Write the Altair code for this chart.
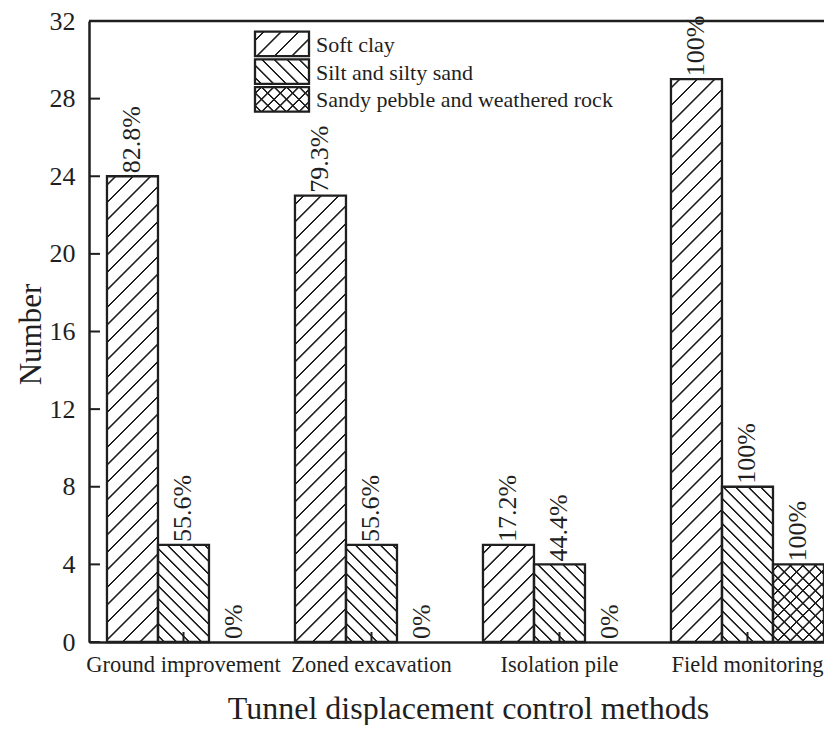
import math
import altair as alt
import pandas as pd

# ---------------- data ----------------
methods = ["Ground improvement", "Zoned excavation", "Isolation pile", "Field monitoring"]
soils = ["Soft clay", "Silt and silty sand", "Sandy pebble and weathered rock"]
soft_clay = [24, 23, 5, 29]
silt_sand = [5, 5, 4, 8]
pebble_rock = [0, 0, 0, 4]
soft_clay_pct = ["82.8%", "79.3%", "17.2%", "100%"]
silt_sand_pct = ["55.6%", "55.6%", "44.4%", "100%"]
pebble_rock_pct = ["0%", "0%", "0%", "100%"]
y_ticks = [0, 4, 8, 12, 16, 20, 24, 28, 32]

rows = []
for vals, pcts, soil in [(soft_clay, soft_clay_pct, soils[0]),
                         (silt_sand, silt_sand_pct, soils[1]),
                         (pebble_rock, pebble_rock_pct, soils[2])]:
    for m, v, p in zip(methods, vals, pcts):
        rows.append({"method": m, "soil": soil, "value": v, "pct": p})
df = pd.DataFrame(rows)

# ---------------- layout / style ----------------
W, H = 735, 621
PAD_TOP = 13
YMAX = 32
PX_PER_UNIT = H / YMAX
P_INNER, P_OUTER, ALIGN = 0.186, 0.0478, 1.0
STEP = W / (len(methods) - P_INNER + 2 * P_OUTER)
BAR_W = STEP * (1 - P_INNER) / len(soils)
INK = "#1f1f1f"
FONT = "Liberation Serif"
CLEAR = "rgba(0,0,0,0)"

# hatch style per soil: list of (direction, spacing)
HATCH = {
    soils[0]: [("/", 17.5)],
    soils[1]: [("\\", 12.5)],
    soils[2]: [("/", 12.5), ("\\", 12.5)],
}


def hatch_fill(w, h, spacing, direction, lw=1.0, color=INK):
    L = w + h
    k = w * L / (w * w + h * h)
    if direction == "/":
        x1, y1, x2, y2 = 0, 0, k, k * h / w
    else:
        x1, y1, x2, y2 = 0, 1, k, 1 - k * h / w
    half = lw * math.sqrt(2) / 2
    fr = 0.7
    stops = [{"offset": 0, "color": CLEAR}]
    c = spacing / 2
    while c - half - fr < L:
        for off, col in [(c - half - fr, CLEAR), (c - half, color),
                         (c + half, color), (c + half + fr, CLEAR)]:
            stops.append({"offset": min(max(off / L, 0.0), 1.0), "color": col})
        c += spacing
    stops.append({"offset": 1, "color": CLEAR})
    return {"gradient": "linear", "x1": x1, "y1": y1, "x2": x2, "y2": y2, "stops": stops}


xscale = alt.Scale(domain=methods, paddingInner=P_INNER, paddingOuter=P_OUTER, align=ALIGN)
offscale = alt.Scale(domain=soils, paddingInner=0, paddingOuter=0)
yscale = alt.Scale(domain=[0, YMAX], nice=False, zero=True)

xaxis = alt.Axis(title="Tunnel displacement control methods", labelFont=FONT, labelFontSize=22.5,
                 labelColor=INK, labelPadding=11, labelLimit=400, labelOverlap=False,
                 ticks=False, domainColor=INK, domainWidth=2.5,
                 labelAngle=0, titleFont=FONT, titleFontSize=32, titleFontWeight="normal",
                 titleColor=INK, titleX=379, titleY=76, titleBaseline="alphabetic",
                 titleAlign="center", grid=False)
yaxis = alt.Axis(title="Number", values=y_ticks, labelFont=FONT, labelFontSize=26, labelColor=INK,
                 labelPadding=14, ticks=False, domainColor=INK, domainWidth=2.5,
                 titleFont=FONT, titleFontSize=31, titleFontWeight="normal", titleColor=INK,
                 titleAngle=270, titleX=-49, titleY=313, titleBaseline="alphabetic",
                 titleAlign="center", grid=False)

X = alt.X("method:N", scale=xscale, axis=xaxis, sort=methods)
XO = alt.XOffset("soil:N", scale=offscale, sort=soils)
Y = alt.Y("value:Q", scale=yscale, axis=yaxis)

layers = []

# bars with hatch fills
for _, r in df.iterrows():
    if r["value"] <= 0:
        continue
    h = r["value"] * PX_PER_UNIT
    patt = HATCH[r["soil"]]
    for i, (d, sp) in enumerate(patt):
        last = i == len(patt) - 1
        mk = dict(fill=hatch_fill(BAR_W, h, sp, d))
        if last:
            mk.update(stroke=INK, strokeWidth=2.3)
        else:
            mk.update(strokeWidth=0)
        layers.append(
            alt.Chart(df)
            .transform_filter((alt.datum.method == r["method"]) & (alt.datum.soil == r["soil"]))
            .mark_bar(**mk)
            .encode(x=X, xOffset=XO, y=Y)
        )

# percentage labels
layers.append(
    alt.Chart(df)
    .mark_text(angle=270, align="left", baseline="middle", dx=3, font=FONT, fontSize=26, color=INK)
    .encode(x=X, xOffset=XO, y=Y, text="pct:N")
)

# inside ticks on y axis
layers.append(
    alt.Chart(pd.DataFrame({"value": y_ticks}))
    .mark_rule(color=INK, strokeWidth=2)
    .encode(y=Y, x=alt.value(0), x2=alt.value(11))
)

# inside ticks on x axis (group centres)
layers.append(
    alt.Chart(pd.DataFrame({"method": methods}))
    .mark_rule(color=INK, strokeWidth=2)
    .encode(x=X, y=alt.value(H), y2=alt.value(H - 10))
)

# top frame line
layers.append(
    alt.Chart(pd.DataFrame({"value": [YMAX]}))
    .mark_rule(color=INK, strokeWidth=2.5)
    .encode(y=Y)
)

# custom legend
LEG_X0, LEG_W, LEG_H, LEG_Y0, LEG_STEP = 166, 54, 24.5, 10.7, 27.7
for i, soil in enumerate(soils):
    y0 = LEG_Y0 + i * LEG_STEP
    patt = HATCH[soil]
    ldf = pd.DataFrame({"soil": [soil]})
    for j, (d, sp) in enumerate(patt):
        last = j == len(patt) - 1
        mk = dict(fill=hatch_fill(LEG_W, LEG_H, sp, d))
        if last:
            mk.update(stroke=INK, strokeWidth=2.3)
        else:
            mk.update(strokeWidth=0)
        layers.append(
            alt.Chart(ldf).mark_rect(**mk).encode(
                x=alt.value(LEG_X0), x2=alt.value(LEG_X0 + LEG_W),
                y=alt.value(y0), y2=alt.value(y0 + LEG_H))
        )
    layers.append(
        alt.Chart(ldf).mark_text(align="left", baseline="middle", font=FONT, fontSize=22, color=INK)
        .encode(x=alt.value(LEG_X0 + LEG_W + 7), y=alt.value(y0 + LEG_H / 2 + 1), text="soil:N")
    )

chart = (
    alt.layer(*layers)
    .properties(width=W, height=H, autosize=alt.AutoSizeParams(type="none"),
                padding={"left": 81, "top": PAD_TOP, "right": 0, "bottom": 83})
    .configure_view(stroke=None)
    .configure(background="white")
)

chart.save("out.html", embed_options={"renderer": "svg", "actions": False})
